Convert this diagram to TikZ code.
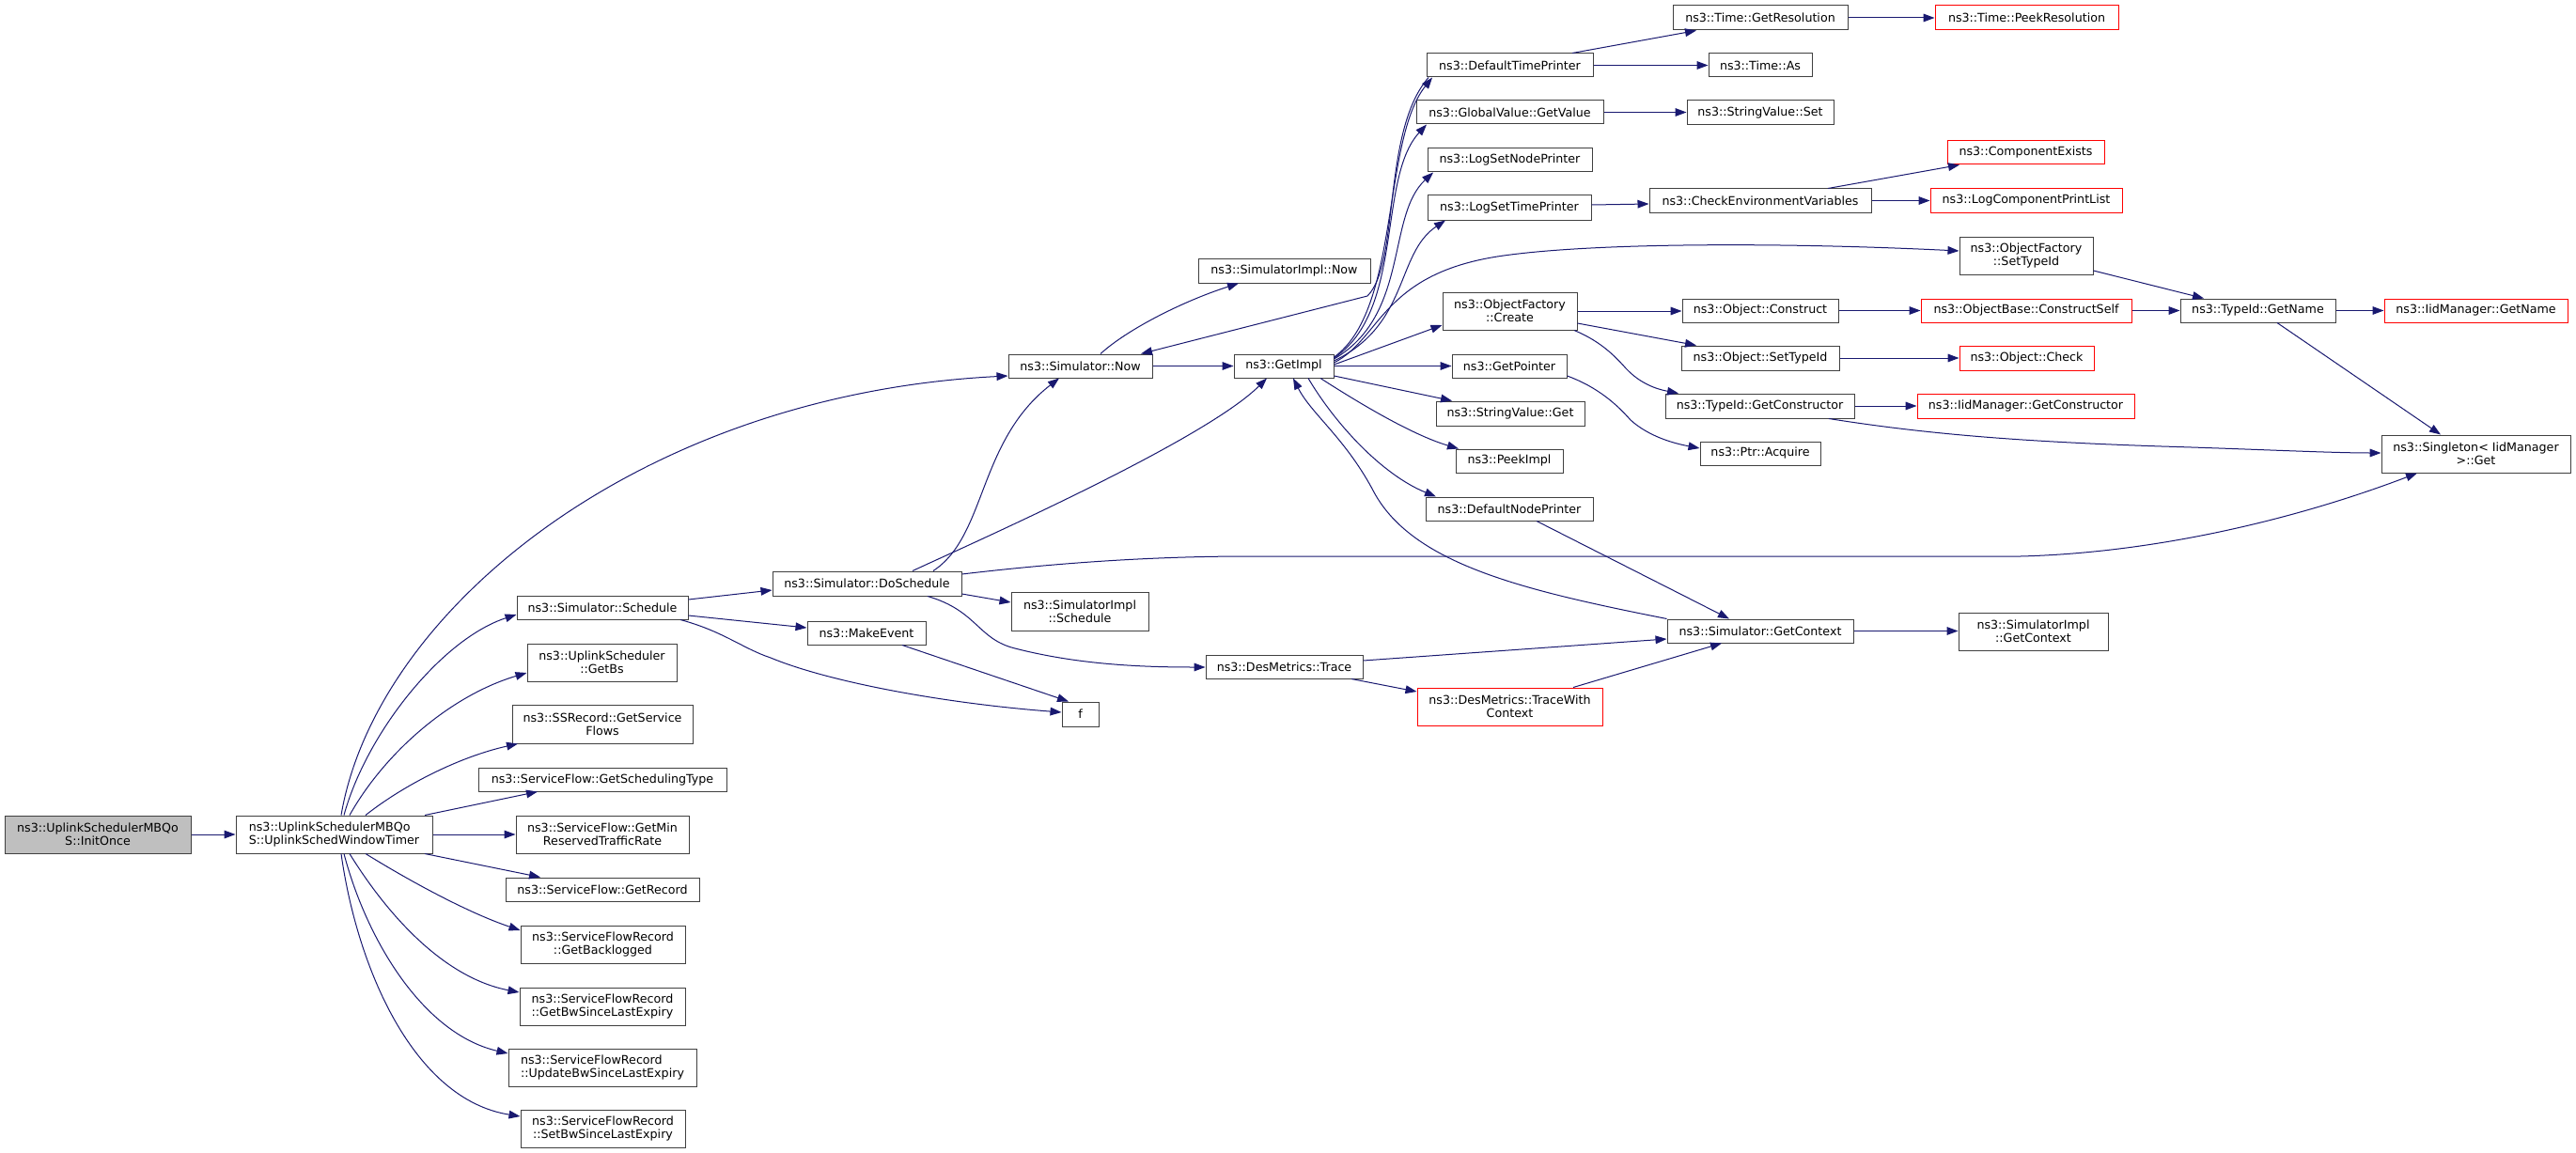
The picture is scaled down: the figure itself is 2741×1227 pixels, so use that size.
\documentclass[tikz,border=0pt]{standalone}
\usepackage{fontspec}
\setmainfont{DejaVu Sans}
\usetikzlibrary{arrows.meta}
\definecolor{edgeblue}{HTML}{191970}
\definecolor{rootgray}{HTML}{BFBFBF}
\definecolor{boxline}{HTML}{404040}
\newcommand{\nodefont}{\fontsize{9.5pt}{10.7pt}\selectfont}
\newcommand{\bx}[7]{\node[#6, minimum width={(#4-#2)*0.75pt}, minimum height={(#5-#3)*0.75pt}] (#1) at ({(#2+#4)/2},{(#3+#5)/2}) {#7};}
\tikzset{
  nb/.style={draw=boxline, line width=0.75pt, fill=white, rectangle, inner sep=0pt, align=center, font=\nodefont},
  rednb/.style={nb, draw=red},
  rootnb/.style={nb, fill=rootgray},
  leftnb/.style={nb, align=left},
  edge/.style={draw=edgeblue, line width=0.75pt, -{Triangle[length=9pt,width=6.5pt]}},
}
\begin{document}
\begin{tikzpicture}[x=0.75pt,y=-0.75pt]
\useasboundingbox (0,0) rectangle (2741,1227);
\fill[white] (0,0) rectangle (2741,1227);
% nodes
\bx{initonce}{5}{868}{203}{908}{rootnb}{ns3::UplinkSchedulerMBQo\\S::InitOnce}
\bx{wtimer}{251}{868}{460}{908}{leftnb}{ns3::UplinkSchedulerMBQo\\S::UplinkSchedWindowTimer}
\bx{simnow}{1073}{377}{1226}{402}{nb}{ns3::Simulator::Now}
\bx{schedule}{550}{634}{732}{659}{nb}{ns3::Simulator::Schedule}
\bx{getbs}{561}{685}{720}{725}{nb}{ns3::UplinkScheduler\\::GetBs}
\bx{getsf}{545}{750}{737}{791}{nb}{ns3::SSRecord::GetService\\Flows}
\bx{getst}{509}{817}{773}{842}{nb}{ns3::ServiceFlow::GetSchedulingType}
\bx{getmin}{549}{868}{733}{908}{nb}{ns3::ServiceFlow::GetMin\\ReservedTrafficRate}
\bx{getrec}{538}{934}{744}{959}{nb}{ns3::ServiceFlow::GetRecord}
\bx{getback}{554}{985}{729}{1025}{nb}{ns3::ServiceFlowRecord\\::GetBacklogged}
\bx{getbw}{553}{1051}{729}{1091}{nb}{ns3::ServiceFlowRecord\\::GetBwSinceLastExpiry}
\bx{updbw}{541}{1116}{741}{1156}{leftnb}{ns3::ServiceFlowRecord\\::UpdateBwSinceLastExpiry}
\bx{setbw}{554}{1181}{729}{1221}{nb}{ns3::ServiceFlowRecord\\::SetBwSinceLastExpiry}
\bx{dosched}{822}{608}{1023}{634}{nb}{ns3::Simulator::DoSchedule}
\bx{makeev}{859}{661}{985}{686}{nb}{ns3::MakeEvent}
\bx{simimplsched}{1076}{630}{1222}{671}{nb}{ns3::SimulatorImpl\\::Schedule}
\bx{fnode}{1130}{747}{1169}{773}{nb}{f}
\bx{simimplnow}{1275}{275}{1458}{301}{nb}{ns3::SimulatorImpl::Now}
\bx{getimpl}{1313}{377}{1419}{402}{nb}{ns3::GetImpl}
\bx{dtp}{1518}{57}{1695}{82}{nb}{ns3::DefaultTimePrinter}
\bx{gv}{1507}{107}{1706}{132}{nb}{ns3::GlobalValue::GetValue}
\bx{lsnp}{1519}{158}{1694}{183}{nb}{ns3::LogSetNodePrinter}
\bx{lstp}{1519}{208}{1693}{234}{nb}{ns3::LogSetTimePrinter}
\bx{ofcreate}{1535}{311}{1678}{351}{nb}{ns3::ObjectFactory\\::Create}
\bx{getptr}{1545}{377}{1667}{402}{nb}{ns3::GetPointer}
\bx{svget}{1528}{427}{1686}{453}{nb}{ns3::StringValue::Get}
\bx{peek}{1549}{478}{1663}{503}{nb}{ns3::PeekImpl}
\bx{dnp}{1517}{529}{1695}{554}{nb}{ns3::DefaultNodePrinter}
\bx{trace}{1283}{697}{1450}{722}{nb}{ns3::DesMetrics::Trace}
\bx{twc}{1508}{732}{1705}{772}{rednb}{ns3::DesMetrics::TraceWith\\Context}
\bx{getctx}{1774}{659}{1972}{684}{nb}{ns3::Simulator::GetContext}
\bx{simimplctx}{2084}{652}{2243}{692}{nb}{ns3::SimulatorImpl\\::GetContext}
\bx{getres}{1780}{6}{1966}{32}{nb}{ns3::Time::GetResolution}
\bx{peekres}{2059}{6}{2254}{32}{rednb}{ns3::Time::PeekResolution}
\bx{timeas}{1818}{57}{1928}{82}{nb}{ns3::Time::As}
\bx{svset}{1795}{107}{1951}{133}{nb}{ns3::StringValue::Set}
\bx{cev}{1755}{201}{1991}{226}{nb}{ns3::CheckEnvironmentVariables}
\bx{compex}{2072}{150}{2239}{175}{rednb}{ns3::ComponentExists}
\bx{lcpl}{2054}{201}{2258}{226}{rednb}{ns3::LogComponentPrintList}
\bx{ofsettid}{2085}{252}{2227}{292}{nb}{ns3::ObjectFactory\\::SetTypeId}
\bx{objcons}{1790}{318}{1956}{343}{nb}{ns3::Object::Construct}
\bx{cself}{2044}{318}{2268}{343}{rednb}{ns3::ObjectBase::ConstructSelf}
\bx{tidname}{2320}{318}{2485}{343}{nb}{ns3::TypeId::GetName}
\bx{iidname}{2537}{318}{2732}{343}{rednb}{ns3::IidManager::GetName}
\bx{objstid}{1789}{368}{1957}{394}{nb}{ns3::Object::SetTypeId}
\bx{objcheck}{2085}{368}{2228}{394}{rednb}{ns3::Object::Check}
\bx{tidcons}{1772}{419}{1973}{445}{nb}{ns3::TypeId::GetConstructor}
\bx{iidcons}{2040}{419}{2271}{445}{rednb}{ns3::IidManager::GetConstructor}
\bx{singleton}{2534}{463}{2735}{503}{nb}{ns3::Singleton< IidManager\\>::Get}
\bx{ptracq}{1809}{470}{1937}{495}{nb}{ns3::Ptr::Acquire}
% edges
\draw[edge] (initonce.east) -- (wtimer.west);
\draw[edge] (363,0 |- wtimer.north) .. controls (400,650) and (680,420) .. (simnow.west |- 0,400);
\draw[edge] (366,0 |- wtimer.north) .. controls (390,780) and (470,680) .. (schedule.west |- 0,654);
\draw[edge] (372,0 |- wtimer.north) .. controls (410,800) and (480,740) .. (getbs.west |- 0,716);
\draw[edge] (389,0 |- wtimer.north) .. controls (430,835) and (490,805) .. (551,0 |- getsf.south);
\draw[edge] (452,0 |- wtimer.north) -- (572,0 |- getst.south);
\draw[edge] (wtimer.east) -- (getmin.west);
\draw[edge] (452,0 |- wtimer.south) -- (575,0 |- getrec.north);
\draw[edge] (389,0 |- wtimer.south) .. controls (440,940) and (500,972) .. (getback.west |- 0,990);
\draw[edge] (372,0 |- wtimer.south) .. controls (410,970) and (470,1040) .. (getbw.west |- 0,1056);
\draw[edge] (366,0 |- wtimer.south) .. controls (390,1000) and (450,1100) .. (updbw.west |- 0,1121);
\draw[edge] (363,0 |- wtimer.south) .. controls (380,1030) and (440,1170) .. (setbw.west |- 0,1188);
% Schedule
\draw[edge] (schedule.east |- 0,638) -- (dosched.west |- 0,628);
\draw[edge] (schedule.east |- 0,655) -- (makeev.west |- 0,668);
\draw[edge] (724,0 |- schedule.south) .. controls (770,672) and (790,690) .. (820,700) .. controls (880,725) and (1000,748) .. (fnode.west |- 0,758);
\draw[edge] (960,0 |- makeev.south) -- (1137,0 |- fnode.north);
% DoSchedule
\draw[edge] (993,0 |- dosched.north) .. controls (1050,570) and (1040,470) .. (1127,0 |- simnow.south);
\draw[edge] (971,0 |- dosched.north) .. controls (1030,580) and (1280,470) .. (1348,0 |- getimpl.south);
\draw[edge] (dosched.east |- 0,611) .. controls (1150,596) and (1250,592) .. (1330,592) -- (2150,592) .. controls (2300,588) and (2450,550) .. (2572,0 |- singleton.south);
\draw[edge] (dosched.east |- 0,632) -- (simimplsched.west |- 0,641);
\draw[edge] (987,0 |- dosched.south) .. controls (1040,650) and (1040,680) .. (1080,690) .. controls (1150,708) and (1220,710) .. (trace.west |- 0,710);
% Simulator::Now
\draw[edge] (simnow.east) -- (getimpl.west);
\draw[edge] (1171,0 |- simnow.north) .. controls (1200,350) and (1260,320) .. (1318,0 |- simimplnow.south);
\draw[edge] (1520,0 |- dtp.south) .. controls (1470,140) and (1490,280) .. (1455,315) -- (1214,0 |- simnow.north);
% GetImpl
\draw[edge] (getimpl.east |- 0,380) .. controls (1490,330) and (1470,150) .. (1524,0 |- dtp.south);
\draw[edge] (getimpl.east |- 0,381) .. controls (1495,330) and (1465,190) .. (1518,0 |- gv.south);
\draw[edge] (getimpl.east |- 0,382) .. controls (1500,335) and (1475,230) .. (1525,0 |- lsnp.south);
\draw[edge] (getimpl.east |- 0,384) .. controls (1500,345) and (1485,270) .. (1538,0 |- lstp.south);
\draw[edge] (getimpl.east |- 0,386) .. controls (1470,360) and (1470,290) .. (1600,272) .. controls (1700,258) and (1900,258) .. (ofsettid.west |- 0,267);
\draw[edge] (getimpl.east |- 0,388) -- (ofcreate.west |- 0,346);
\draw[edge] (getimpl.east) -- (getptr.west);
\draw[edge] (getimpl.east |- 0,400) -- (1545,0 |- svget.north);
\draw[edge] (1405,0 |- getimpl.south) .. controls (1440,425) and (1500,462) .. (1552,0 |- peek.north);
\draw[edge] (1392,0 |- getimpl.south) .. controls (1420,450) and (1470,505) .. (1528,0 |- dnp.north);
\draw[edge] (getctx.north west) .. controls (1620,628) and (1500,600) .. (1460,520) .. controls (1430,465) and (1395,440) .. (1376,0 |- getimpl.south);
% GetContext and DesMetrics
\draw[edge] (1635,0 |- dnp.south) -- (1840,0 |- getctx.north);
\draw[edge] (getctx.east) -- (getctx.east -| simimplctx.west);
\draw[edge] (trace.east |- 0,703) -- (getctx.west |- 0,680);
\draw[edge] (1438,0 |- trace.south) -- (twc.west |- 0,736);
\draw[edge] (1674,0 |- twc.north) -- (1832,0 |- getctx.south);
% upper right
\draw[edge] (1673,0 |- dtp.north) -- (1805,0 |- getres.south);
\draw[edge] (dtp.east) -- (timeas.west);
\draw[edge] (getres.east) -- (peekres.west);
\draw[edge] (gv.east) -- (gv.east -| svset.west);
\draw[edge] (lstp.east |- 0,218) -- (cev.west |- 0,217);
\draw[edge] (1945,0 |- cev.north) -- (2085,0 |- compex.south);
\draw[edge] (cev.east) -- (lcpl.west);
\draw[edge] (ofsettid.east |- 0,288) -- (2345,0 |- tidname.north);
\draw[edge] (ofcreate.east |- 0,331) -- (objcons.west |- 0,331);
\draw[edge] (ofcreate.east |- 0,344) -- (1805,0 |- objstid.north);
\draw[edge] (1675,0 |- ofcreate.south) .. controls (1700,362) and (1715,375) .. (1730,392) .. controls (1745,408) and (1762,414) .. (1786,0 |- tidcons.north);
\draw[edge] (objcons.east) -- (cself.west);
\draw[edge] (cself.east) -- (tidname.west);
\draw[edge] (tidname.east) -- (iidname.west);
\draw[edge] (2423,0 |- tidname.south) -- (2597,0 |- singleton.north);
\draw[edge] (objstid.east) -- (objcheck.west);
\draw[edge] (tidcons.east) -- (iidcons.west);
\draw[edge] (1946,0 |- tidcons.south) .. controls (2050,462) and (2150,470) .. (2300,475) .. controls (2400,478) and (2480,482) .. (singleton.west |- 0,482);
\draw[edge] (getptr.east |- 0,400) .. controls (1700,412) and (1720,430) .. (1735,447) .. controls (1755,465) and (1782,472) .. (ptracq.west |- 0,477);
\end{tikzpicture}
\end{document}
